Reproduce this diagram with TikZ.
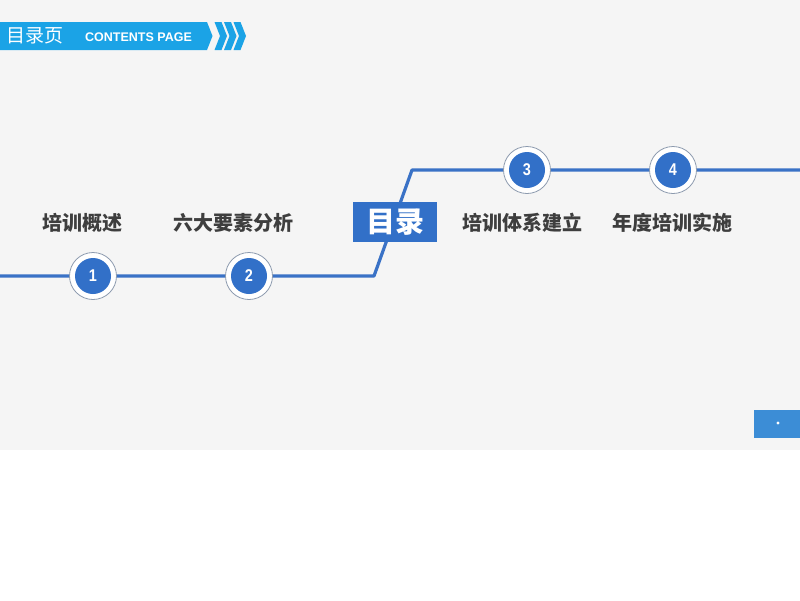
\documentclass[tikz,border=0pt]{standalone}
\usepackage{graphicx}
\usepackage{fontspec}
\setmainfont{Liberation Sans}
\newfontfamily\cjk{Noto Sans CJK SC}
\definecolor{bannerblue}{HTML}{1BA3E6}
\definecolor{lineblue}{HTML}{3A72C6}
\definecolor{dotblue}{HTML}{3270C8}
\definecolor{slidegray}{HTML}{F5F5F5}
\definecolor{textgray}{HTML}{3E3E3E}
\definecolor{ringgray}{HTML}{8C9AAE}
\definecolor{cornerblue}{HTML}{3C8DD6}
\tikzset{
  ring/.style={circle, draw=ringgray, line width=0.8pt, fill=white, minimum size=47pt, inner sep=0pt},
  numdot/.style={circle, fill=dotblue, minimum size=36pt, inner sep=0pt, text=white, font=\bfseries\fontsize{17}{17}\selectfont},
  label/.style={text=textgray, font=\cjk\bfseries\fontsize{20}{20}\selectfont, inner sep=0pt},
  tl/.style={draw=lineblue, line width=3.2pt}
}
\begin{document}
\begin{tikzpicture}[x=1pt,y=-1pt]
\useasboundingbox (0,0) rectangle (800,600);
\fill[white] (0,0) rectangle (800,600);
\fill[slidegray] (0,0) rectangle (800,450);
% header banner
\fill[bannerblue] (0,22) -- (207,22) -- (212.5,36) -- (207,50) -- (0,50) -- cycle;
\foreach \x in {214.5,224,233.5}{
  \fill[bannerblue] (\x,22) -- (\x+7,22) -- (\x+12.5,36) -- (\x+7,50) -- (\x,50) -- (\x+5.5,36) -- cycle;
}
\node[anchor=west, text=white, inner sep=0pt, font=\cjk\fontsize{19}{19}\selectfont] (hdr) at (6,36) {目录页};
\node[anchor=west, text=white, inner sep=0pt, font=\bfseries\fontsize{12.5}{12.5}\selectfont] (hdr2) at (85,37) {CONTENTS PAGE};
% timeline
\coordinate (L0) at (0,276);
\coordinate (Lc) at (374,276);
\coordinate (Uc) at (412,170);
\coordinate (R0) at (800,170);
\draw[tl, line join=round] (L0) -- (Lc) -- (Uc) -- (R0);
% center box
\node[fill=dotblue, minimum width=84pt, minimum height=40pt, inner sep=0pt, text=white, font=\cjk\bfseries\fontsize{29}{29}\selectfont] (ml) at (395,222) {目录};
% circles
\foreach \n/\x/\y in {1/93/276, 2/249/276, 3/527/170, 4/673/170}{
  \node[ring] (r\n) at (\x,\y) {};
  \node[numdot] (c\n) at (\x,\y) {\scalebox{0.85}[1]{\n}};
}
% labels
\node[label] (t1) at (82,223) {培训概述};
\node[label] (t2) at (233,223) {六大要素分析};
\node[label] (t3) at (522,223) {培训体系建立};
\node[label] (t4) at (672,223) {年度培训实施};
% corner box
\fill[cornerblue] (754,410) rectangle (800,438);
\fill[white] (778,423) circle (1.6);
\end{tikzpicture}
\end{document}
